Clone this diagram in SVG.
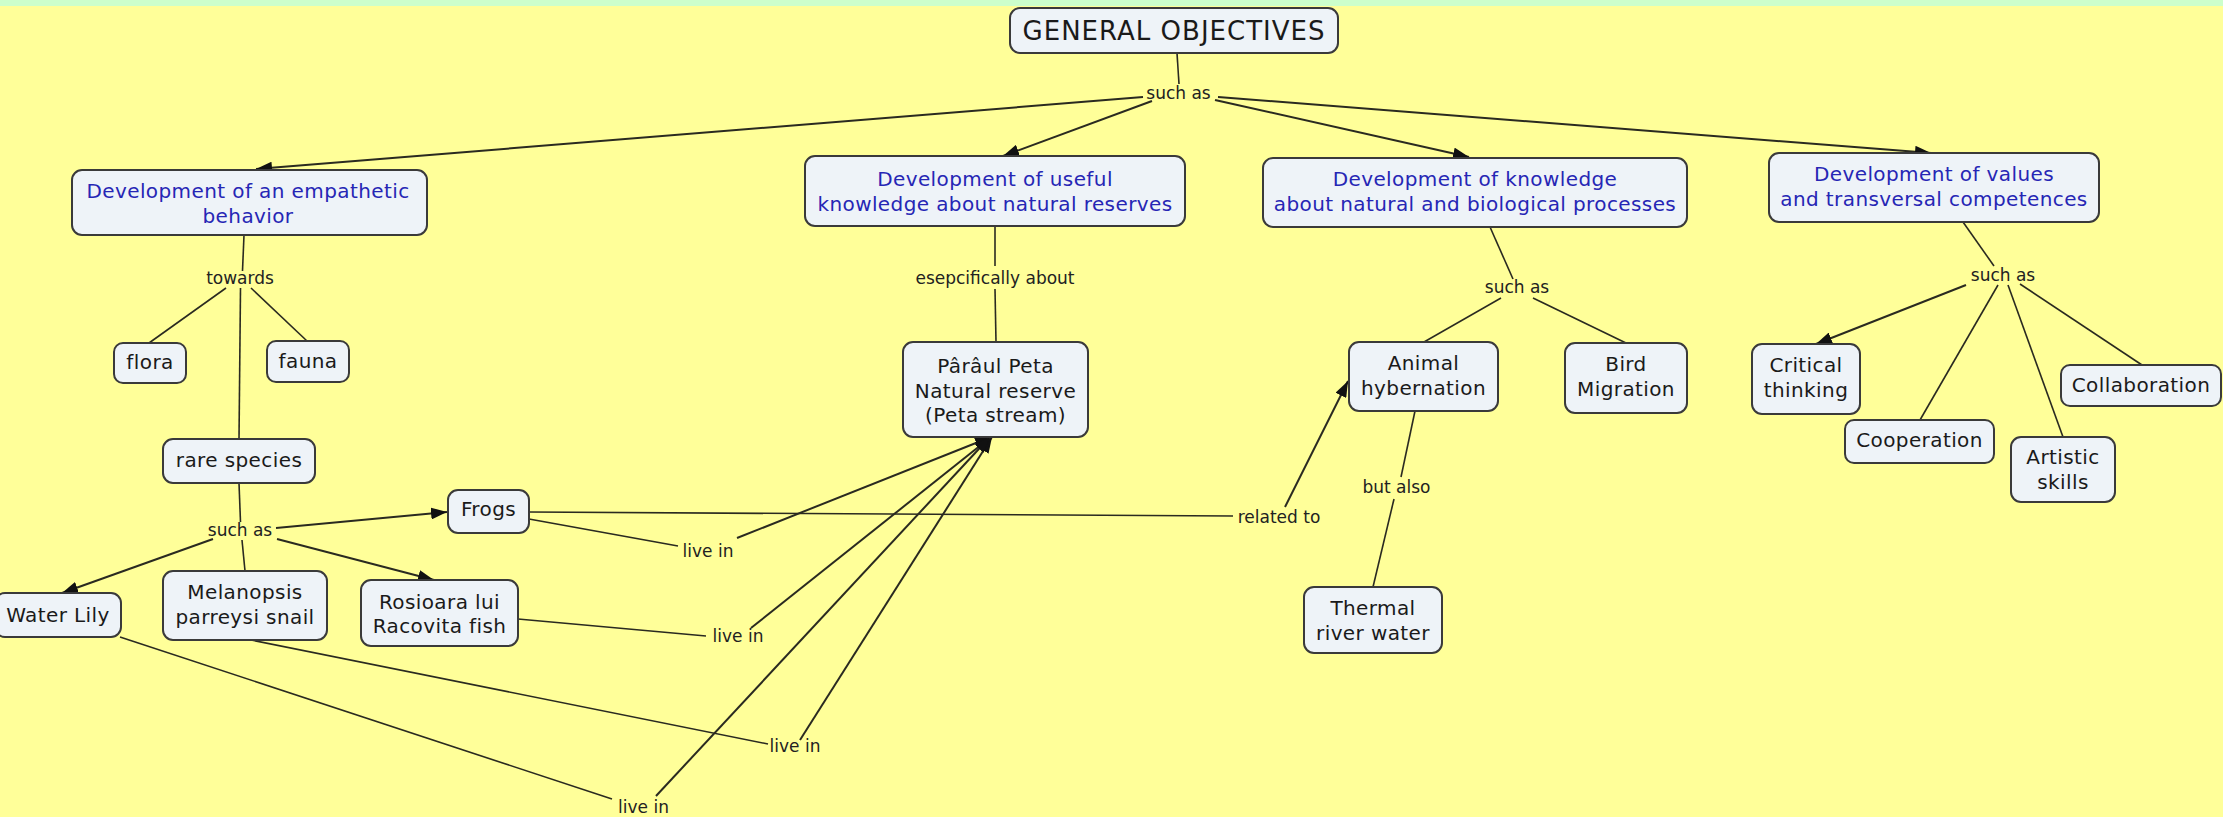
<svg xmlns="http://www.w3.org/2000/svg" width="2223" height="817" viewBox="0 0 2223 817">
<style>
.n rect{fill:#eef3f8;stroke:#3a3a3a;stroke-width:2}
.n text{font-family:"DejaVu Sans",Verdana,sans-serif;font-size:20px;letter-spacing:0.4px;fill:#1a1a1a;text-anchor:middle}
.n.b text{fill:#2626b5}
.n.t text{font-size:26px;letter-spacing:1px}
.lbl{font-family:"DejaVu Sans",Verdana,sans-serif;font-size:17px;fill:#222;text-anchor:middle}
.c line{stroke:#2a2a20;stroke-width:1.6;fill:none}
.c line.a{stroke-width:2;marker-end:url(#ah)}
</style>
<defs>
<marker id="ah" markerUnits="userSpaceOnUse" markerWidth="16" markerHeight="12" viewBox="0 0 16 12" refX="16" refY="6" orient="auto">
<path d="M0,0 L16,6 L0,12 z" fill="#111"/>
</marker>
</defs>
<rect x="0" y="0" width="2223" height="817" fill="#ffff99"/>
<rect x="0" y="0" width="2223" height="6" fill="#ccffcc"/>

<g id="connectors" class="c">
<line x1="1177" y1="53" x2="1179" y2="84"/>
<line class="a" x1="1143" y1="97" x2="256" y2="169"/>
<line class="a" x1="1152" y1="101" x2="1003" y2="156"/>
<line class="a" x1="1215" y1="100" x2="1469" y2="157"/>
<line class="a" x1="1218" y1="97" x2="1931" y2="153"/>
<line x1="244" y1="235" x2="242.5" y2="271"/>
<line x1="226" y1="288" x2="149" y2="343"/>
<line x1="251" y1="288" x2="307" y2="341"/>
<line x1="240.5" y1="288" x2="239" y2="439"/>
<line x1="995" y1="226" x2="995" y2="266"/>
<line x1="995" y1="289" x2="996" y2="342"/>
<line x1="1490" y1="227" x2="1513" y2="279"/>
<line x1="1501" y1="298" x2="1424" y2="342"/>
<line x1="1533" y1="298" x2="1626" y2="343"/>
<line x1="1963" y1="222" x2="1994" y2="266"/>
<line class="a" x1="1966" y1="285" x2="1816" y2="344"/>
<line x1="1998" y1="285" x2="1920" y2="420"/>
<line x1="2008" y1="285" x2="2063" y2="437"/>
<line x1="2020" y1="284" x2="2142" y2="365"/>
<line x1="1415" y1="411" x2="1401" y2="477"/>
<line x1="1394" y1="499" x2="1373" y2="587"/>
<line x1="529" y1="512" x2="1233" y2="516"/>
<line class="a" x1="1285" y1="507" x2="1348" y2="381"/>
<line x1="239" y1="483" x2="240.5" y2="522"/>
<line x1="242" y1="540" x2="245" y2="571"/>
<line class="a" x1="276" y1="528" x2="447" y2="512"/>
<line class="a" x1="213" y1="539" x2="62" y2="593"/>
<line class="a" x1="277" y1="539" x2="434" y2="580"/>
<line x1="529" y1="519" x2="678" y2="546"/>
<line class="a" x1="737" y1="538" x2="991" y2="437"/>
<line x1="518" y1="619" x2="706" y2="636"/>
<line class="a" x1="751" y1="628" x2="991" y2="437"/>
<line x1="251" y1="640" x2="768" y2="744"/>
<line class="a" x1="800" y1="740" x2="992" y2="437"/>
<line x1="120" y1="637" x2="612" y2="799"/>
<line class="a" x1="656" y1="796" x2="990" y2="437"/>
</g>

<g id="labels">
<text class="lbl" x="1178.5" y="99">such as</text>
<text class="lbl" x="240" y="284">towards</text>
<text class="lbl" x="995" y="284">esepcifically about</text>
<text class="lbl" x="1517" y="293">such as</text>
<text class="lbl" x="2003" y="281">such as</text>
<text class="lbl" x="240" y="535.5">such as</text>
<text class="lbl" x="708" y="557">live in</text>
<text class="lbl" x="738" y="642">live in</text>
<text class="lbl" x="795" y="752">live in</text>
<text class="lbl" x="643.5" y="813">live in</text>
<text class="lbl" x="1279" y="523">related to</text>
<text class="lbl" x="1396.5" y="493">but also</text>
</g>

<g id="n-general" class="n t"><rect x="1010" y="8" width="328" height="45" rx="10"/><text x="1174" y="39.5">GENERAL OBJECTIVES</text></g>
<g id="n-empathetic" class="n b"><rect x="72" y="170" width="355" height="65" rx="10"/><text x="248" y="197.5">Development of an empathetic</text><text x="248" y="222.5">behavior</text></g>
<g id="n-useful" class="n b"><rect x="805" y="156" width="380" height="70" rx="10"/><text x="995" y="185.5">Development of useful</text><text x="995" y="210.5">knowledge about natural reserves</text></g>
<g id="n-knowledge" class="n b"><rect x="1263" y="158" width="424" height="69" rx="10"/><text x="1475" y="186">Development of knowledge</text><text x="1475" y="211">about natural and biological processes</text></g>
<g id="n-values" class="n b"><rect x="1769" y="153" width="330" height="69" rx="10"/><text x="1934" y="181">Development of values</text><text x="1934" y="206">and transversal competences</text></g>
<g id="n-flora" class="n"><rect x="114" y="343" width="72" height="40" rx="9"/><text x="150" y="369">flora</text></g>
<g id="n-fauna" class="n"><rect x="267" y="341" width="82" height="41" rx="9"/><text x="308" y="368">fauna</text></g>
<g id="n-paraul" class="n"><rect x="903" y="342" width="185" height="95" rx="10"/><text x="995.5" y="373">Pârâul Peta</text><text x="995.5" y="397.5">Natural reserve</text><text x="995.5" y="422">(Peta stream)</text></g>
<g id="n-rare" class="n"><rect x="163" y="439" width="152" height="44" rx="10"/><text x="239" y="467">rare species</text></g>
<g id="n-frogs" class="n"><rect x="448" y="490" width="81" height="43" rx="10"/><text x="488.5" y="516">Frogs</text></g>
<g id="n-waterlily" class="n"><rect x="-5" y="593" width="126" height="44" rx="10"/><text x="58" y="622">Water Lily</text></g>
<g id="n-melanopsis" class="n"><rect x="163" y="571" width="164" height="69" rx="10"/><text x="245" y="599">Melanopsis</text><text x="245" y="624">parreysi snail</text></g>
<g id="n-rosioara" class="n"><rect x="361" y="580" width="157" height="66" rx="10"/><text x="439.5" y="608.5">Rosioara lui</text><text x="439.5" y="633">Racovita fish</text></g>
<g id="n-animal" class="n"><rect x="1349" y="342" width="149" height="69" rx="10"/><text x="1423.5" y="369.5">Animal</text><text x="1423.5" y="394.5">hybernation</text></g>
<g id="n-bird" class="n"><rect x="1565" y="343" width="122" height="70" rx="10"/><text x="1626" y="370.5">Bird</text><text x="1626" y="395.5">Migration</text></g>
<g id="n-critical" class="n"><rect x="1752" y="344" width="108" height="70" rx="10"/><text x="1806" y="372">Critical</text><text x="1806" y="397">thinking</text></g>
<g id="n-collaboration" class="n"><rect x="2061" y="365" width="160" height="41" rx="9"/><text x="2141" y="392">Collaboration</text></g>
<g id="n-cooperation" class="n"><rect x="1845" y="420" width="149" height="43" rx="9"/><text x="1919.5" y="447">Cooperation</text></g>
<g id="n-artistic" class="n"><rect x="2011" y="437" width="104" height="65" rx="10"/><text x="2063" y="464">Artistic</text><text x="2063" y="489">skills</text></g>
<g id="n-thermal" class="n"><rect x="1304" y="587" width="138" height="66" rx="10"/><text x="1373" y="615">Thermal</text><text x="1373" y="640">river water</text></g>
</svg>
